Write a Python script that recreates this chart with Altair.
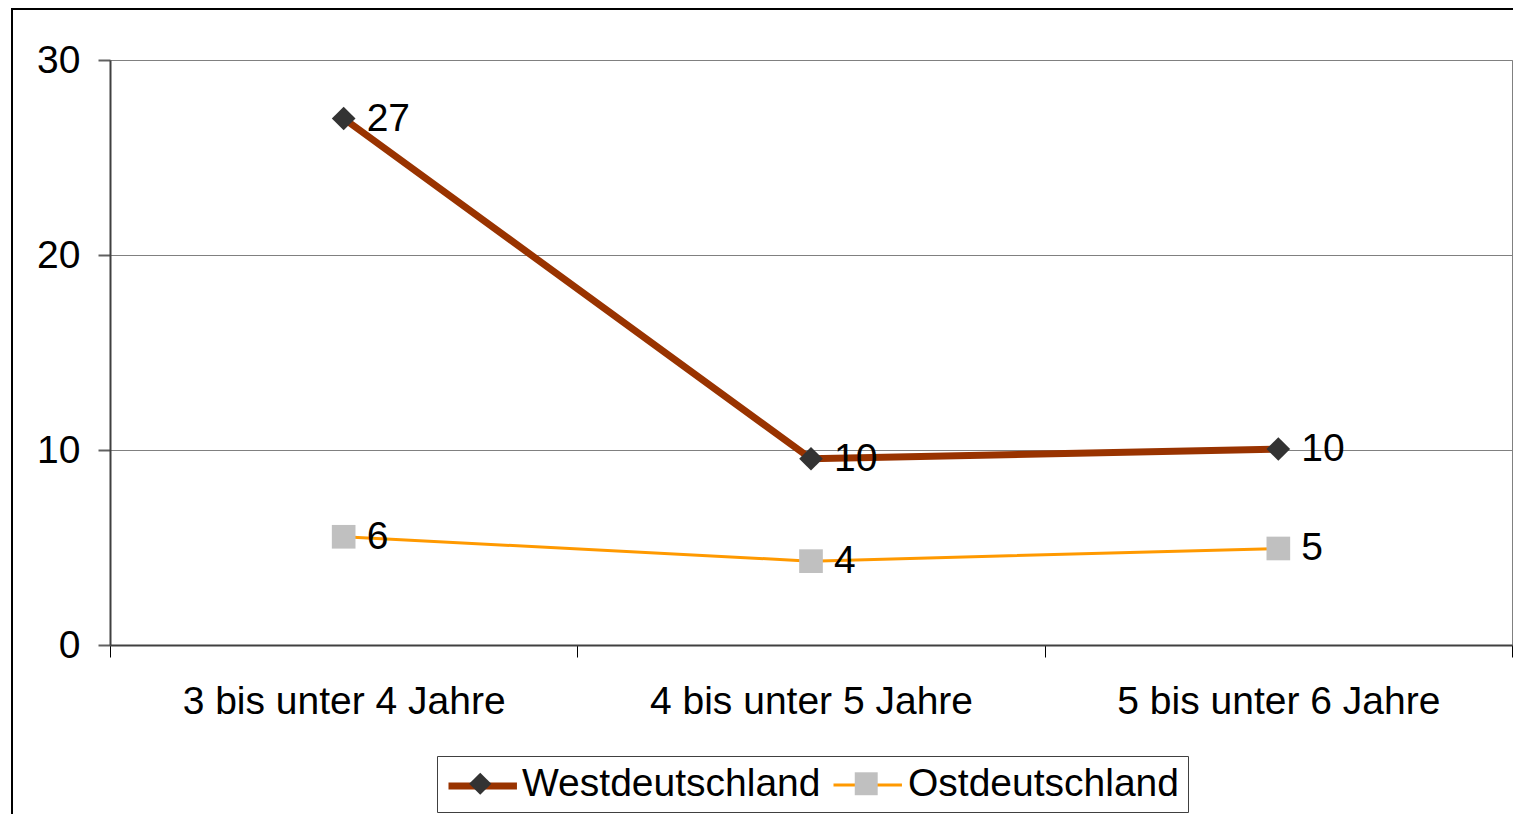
import altair as alt
import pandas as pd

categories = ["3 bis unter 4 Jahre", "4 bis unter 5 Jahre", "5 bis unter 6 Jahre"]
series_names = ["Westdeutschland", "Ostdeutschland"]
west_values = [27.0, 9.55, 10.05]
east_values = [5.55, 4.3, 4.95]
y_ticks = [0, 10, 20, 30]

line_colors = ["#993300", "#FF9900"]
line_widths = [7, 3]
marker_fills = ["#333333", "#C0C0C0"]
marker_shapes = ["diamond", "square"]
legend_line_path = "M-1,0H2.7"
legend_diamond_path = "M0.85,-0.6L1.45,0L0.85,0.6L0.25,0Z"
legend_square_path = "M0.23,-0.62H1.47V0.62H0.23Z"

rows = []
for s, vals in zip(series_names, [west_values, east_values]):
    for c, v in zip(categories, vals):
        rows.append({"Kategorie": c, "Wert": v, "Serie": s, "Serie_m": s})
df = pd.DataFrame(rows)

FONT = "Liberation Sans"
FS = 39

x_enc = alt.X(
    "Kategorie:N",
    sort=categories,
    bandPosition=0.5,
    scale=alt.Scale(type="band", paddingInner=0, paddingOuter=0),
    axis=alt.Axis(
        title=None, tickBand="extent", labelAngle=0, grid=False,
        domainColor="#404040", domainWidth=2, tickColor="black", tickWidth=1,
        tickSize=12, labelFont=FONT, labelFontSize=FS, labelColor="black",
        labelPadding=25, labelLimit=1000,
    ),
)
y_enc = alt.Y(
    "Wert:Q",
    scale=alt.Scale(domain=[0, 30], nice=False, zero=True),
    axis=alt.Axis(
        title=None, values=y_ticks, grid=True, gridColor="#808080", gridWidth=1,
        domainColor="#404040", domainWidth=2, tickColor="#606060", tickWidth=2,
        tickSize=12, labelFont=FONT, labelFontSize=FS, labelColor="black",
        labelPadding=18,
    ),
)

common_legend = dict(
    title=None, orient="none", legendX=327, legendY=696, direction="horizontal",
    columns=2, symbolSize=1369, symbolStrokeWidth=0, labelFont=FONT,
    labelFontSize=FS, labelOffset=38, padding=8, labelLimit=1000,
)

# line part of the legend (labels left empty, spacing compensated)
legend_a = alt.Legend(
    symbolType=legend_line_path, labelExpr="''", columnPadding=296,
    **common_legend,
)
is_west = f"datum.value === '{series_names[0]}'"
# marker part of the legend, with the visible labels and the frame
legend_b = alt.Legend(
    labelColor="black", symbolOpacity=1, columnPadding=10,
    strokeColor="#404040",
    symbolType=alt.ExprRef(expr=f"{is_west} ? '{legend_diamond_path}' : '{legend_square_path}'"),
    symbolFillColor=alt.ExprRef(expr=f"{is_west} ? '{marker_fills[0]}' : '{marker_fills[1]}'"),
    symbolStrokeColor="transparent",
    **common_legend,
)

base = alt.Chart(df)

frame = alt.Chart(pd.DataFrame({"f": [0]})).mark_rect(
    fillOpacity=0, stroke="black", strokeWidth=2
).encode(
    x=alt.value(-98), x2=alt.value(1450), y=alt.value(-51), y2=alt.value(800)
)

lines = base.mark_line().encode(
    x=x_enc,
    y=y_enc,
    color=alt.Color("Serie:N", scale=alt.Scale(domain=series_names, range=line_colors), legend=legend_a),
    strokeWidth=alt.StrokeWidth("Serie:N", scale=alt.Scale(domain=series_names, range=line_widths), legend=legend_a),
    order=alt.Order("Kategorie:N"),
)

points = base.mark_point(filled=True, size=560, opacity=1, strokeWidth=0).encode(
    x=x_enc,
    y=y_enc,
    fill=alt.Fill("Serie_m:N", sort=series_names, scale=alt.Scale(range=marker_fills), legend=None),
    shape=alt.Shape("Serie_m:N", sort=series_names, scale=alt.Scale(range=marker_shapes), legend=None),
    strokeDash=alt.StrokeDash("Serie_m:N", sort=series_names, scale=alt.Scale(range=[[1, 0], [1, 0]]), legend=legend_b),
)

labels = base.mark_text(
    align="left", baseline="middle", dx=23, font=FONT, fontSize=FS, color="black"
).encode(
    x=x_enc,
    y=y_enc,
    text=alt.Text("Wert:Q", format=".0f"),
)

chart = alt.layer(frame, lines, points, labels).properties(
    width=1402,
    height=585,
    padding={"left": 102, "top": 52, "right": 1, "bottom": 169},
    autosize=alt.AutoSizeParams(type="none"),
).configure(font=FONT).configure_view(stroke="#808080", strokeWidth=1)

chart.save("out.html", embed_options={"renderer": "svg", "actions": False})
